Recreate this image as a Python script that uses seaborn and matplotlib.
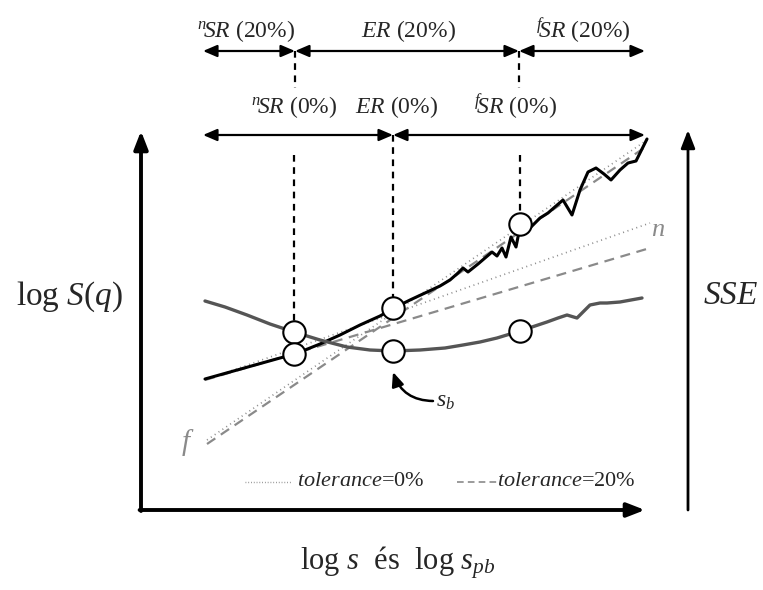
import matplotlib
matplotlib.use("Agg")
import matplotlib.pyplot as plt
import seaborn as sns
import pandas as pd

sns.set_theme(style="white")
plt.rcParams["font.family"] = ["Liberation Serif", "DejaVu Serif"]
plt.rcParams["mathtext.fontset"] = "custom"
plt.rcParams["mathtext.rm"] = "Liberation Serif"
plt.rcParams["mathtext.it"] = "Liberation Serif:italic"

# Schematic coordinates (canvas units, y grows downward)
scaling_x = [205, 230, 255, 280, 295, 320, 340, 360, 380, 394, 410, 425, 440, 450, 458,
             463, 468, 478, 485, 492, 497, 502, 506, 511, 516, 520, 530, 540, 548, 556,
             563, 572, 580, 588, 596, 604, 611, 620, 628, 636, 647]
scaling_y = [379, 372, 365, 358, 354, 344, 335, 325, 316, 308, 300, 293, 286, 280, 273,
             268, 272, 264, 258, 252, 256, 248, 257, 237, 247, 227, 228, 218, 213, 206,
             200, 215, 190, 172, 168, 174, 180, 170, 163, 161, 139]

sse_x = [205, 225, 247, 270, 294, 320, 347, 370, 393, 420, 445, 463, 480, 497, 520,
         535, 547, 558, 567, 577, 585, 590, 600, 607, 620, 642]
sse_y = [301, 307, 315, 324, 332, 340, 347, 350, 351, 350, 348, 345, 342, 338, 331,
         326, 322, 318, 315, 318, 310, 305, 303, 303, 302, 298]

# fitted lines: near-region (n) and far-region (f), for the two tolerances
fit_n0_x, fit_n0_y = [205, 650], [380, 223]
fit_n20_x, fit_n20_y = [205, 650], [380, 248]
fit_f0_x, fit_f0_y = [207, 647], [440, 140]
fit_f20_x, fit_f20_y = [207, 647], [444, 146]

# region boundaries and marked points
bound_20 = [295, 519]
bound_0 = [294, 393, 520]
marker_x = [294, 294, 393, 393, 520, 520]
marker_y = [332, 354, 308, 351, 224, 331]

labels_20 = [r"${}^{n}\!SR$ (20%)", r"$ER$ (20%)", r"${}^{f}\!SR$ (20%)"]
labels_0 = [r"${}^{n}\!SR$ (0%)", r"$ER$ (0%)", r"${}^{f}\!SR$ (0%)"]
labels_20_x = [246, 409, 583]
labels_0_x = [294, 397, 515]

fig = plt.figure(figsize=(7.63, 5.90), dpi=100)
ax = fig.add_axes([0, 0, 1, 1])
ax.set_xlim(0, 763)
ax.set_ylim(590, 0)
ax.axis("off")

gray = "#8a8a8a"
dash = (0, (4.5, 3))
dot = (0, (0.6, 2.2))

# fitted lines
sns.lineplot(x=fit_f20_x, y=fit_f20_y, ax=ax, color=gray, lw=1.6, linestyle=dash)
sns.lineplot(x=fit_f0_x, y=fit_f0_y, ax=ax, color=gray, lw=1.2, linestyle=dot)
sns.lineplot(x=fit_n20_x, y=fit_n20_y, ax=ax, color=gray, lw=1.6, linestyle=dash)
sns.lineplot(x=fit_n0_x, y=fit_n0_y, ax=ax, color=gray, lw=1.2, linestyle=dot)

# scaling curve and SSE curve
curve = pd.DataFrame({"x": scaling_x, "y": scaling_y})
sns.lineplot(data=curve, x="x", y="y", ax=ax, color="black", lw=2.2, sort=False, zorder=3)
sse = pd.DataFrame({"x": sse_x, "y": sse_y})
sns.lineplot(data=sse, x="x", y="y", ax=ax, color="#555555", lw=2.4, sort=False, zorder=3)

# vertical boundary markers
vdash = (0, (3, 2.5))
for bx, top, bottom in zip(bound_0, [155, 135, 155], [321, 297, 213]):
    ax.plot([bx, bx], [top, bottom], color="black", lw=1.6, linestyle=vdash, zorder=2)
for bx in bound_20:
    ax.plot([bx, bx], [51, 88], color="black", lw=1.6, linestyle=vdash, zorder=2)

sns.scatterplot(x=marker_x, y=marker_y, ax=ax, s=260, color="white",
                edgecolor="black", linewidth=1.5, zorder=5)

# region arrows
arrow_kw = dict(arrowstyle="<|-|>,head_length=0.7,head_width=0.3", color="black",
                lw=1.6, shrinkA=0, shrinkB=0)
edges_20 = [203] + bound_20 + [645]
for a, b in zip(edges_20[:-1], edges_20[1:]):
    ax.annotate("", xy=(b, 51), xytext=(a, 51), arrowprops=arrow_kw)
edges_0 = [203, bound_0[1], 645]
for a, b in zip(edges_0[:-1], edges_0[1:]):
    ax.annotate("", xy=(b, 135), xytext=(a, 135), arrowprops=arrow_kw)

for lab, lx in zip(labels_20, labels_20_x):
    ax.text(lx, 31, lab, fontsize=17, ha="center", va="center")
for lab, lx in zip(labels_0, labels_0_x):
    ax.text(lx, 107, lab, fontsize=17, ha="center", va="center")

# axes frame with arrows
axis_kw = dict(arrowstyle="-|>,head_length=0.9,head_width=0.35", color="black",
               shrinkA=0, shrinkB=0)
ax.annotate("", xy=(141, 131), xytext=(141, 511), arrowprops=dict(lw=2.8, **axis_kw))
ax.annotate("", xy=(645, 510), xytext=(139.6, 510), arrowprops=dict(lw=2.8, **axis_kw))
ax.annotate("", xy=(688, 130), xytext=(688, 510), arrowprops=dict(lw=2.0, **axis_kw))

# fit labels
ax.text(658, 230, r"$n$", fontsize=19, color=gray, ha="center", va="center")
ax.text(188, 443, r"$f$", fontsize=21, color=gray, ha="center", va="center")

# breakpoint annotation
ax.annotate("", xy=(393, 372), xytext=(433, 401),
            arrowprops=dict(arrowstyle="-|>,head_length=0.7,head_width=0.3",
                            color="black", lw=1.8, connectionstyle="arc3,rad=-0.35",
                            shrinkA=0, shrinkB=0))
ax.text(436, 402, r"$s_b$", fontsize=17, ha="left", va="center")

# legend
ax.plot([245, 292], [482, 482], color=gray, lw=1.0, linestyle=(0, (0.6, 1.4)))
ax.text(297, 481, r"$tolerance$=0%", fontsize=16, ha="left", va="center")
ax.plot([457, 497], [482, 482], color=gray, lw=1.2, linestyle=(0, (4, 2.5)))
ax.text(497, 481, r"$tolerance$=20%", fontsize=16, ha="left", va="center")

# axis titles
ax.text(70, 297, r"log $S$($q$)", fontsize=24, ha="center", va="center")
ax.text(731, 296, r"$SSE$", fontsize=24, ha="center", va="center")
ax.text(398, 563, r"log $s$  és  log $s_{pb}$", fontsize=22, ha="center", va="center")

fig.savefig("out.png", dpi=100)
